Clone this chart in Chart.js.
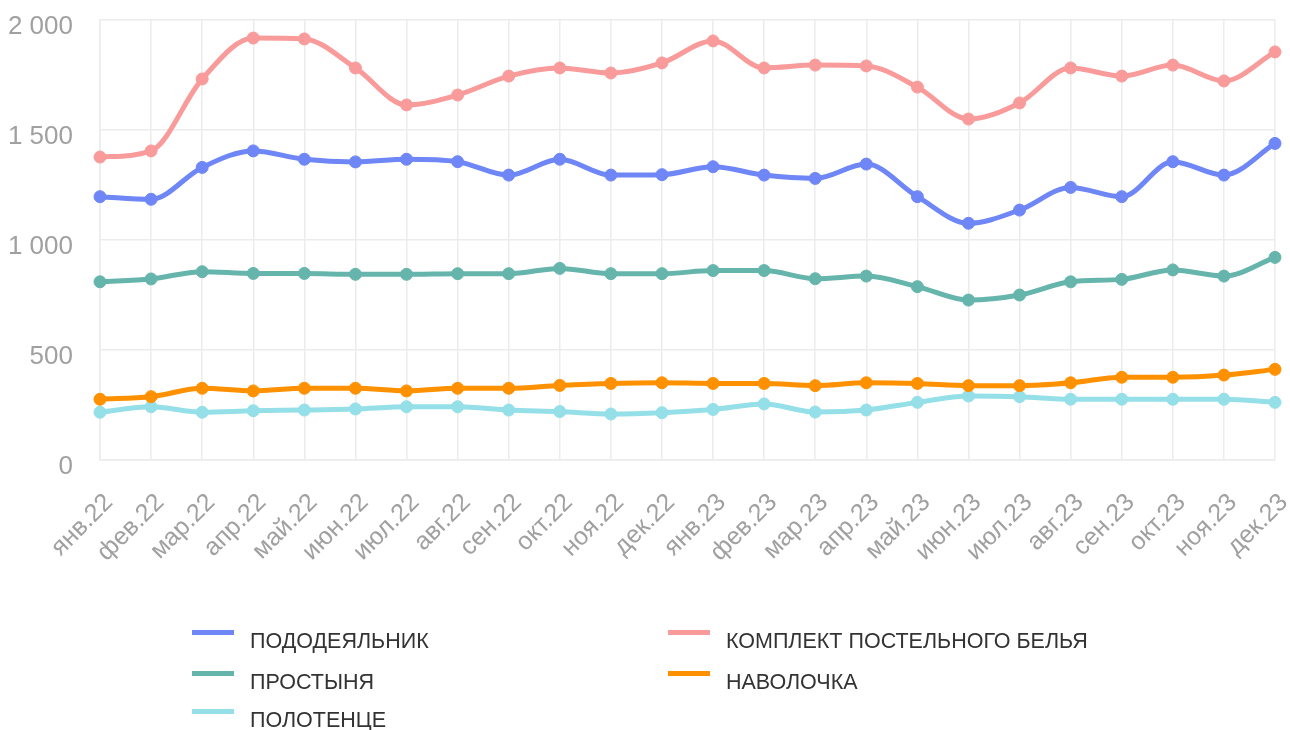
<!DOCTYPE html>
<html>
<head>
<meta charset="utf-8">
<script src="https://cdn.jsdelivr.net/npm/chart.js@4/dist/chart.umd.min.js"></script>
<style>
  html, body { margin: 0; padding: 0; background: #fff; }
  #wrap { position: relative; width: 1290px; height: 730px; }
  #chartBox { position: absolute; left: 0; top: 0; width: 1290px; height: 600px; }
  #legend { position: absolute; left: 0; top: 0; width: 1290px; height: 730px; pointer-events: none;
    font-family: "Liberation Sans", Arial, sans-serif; font-size: 21.5px; color: #333; }
  .sw { position: absolute; width: 42px; height: 5px; }
  .tx { position: absolute; white-space: nowrap; line-height: 24px; }
</style>
</head>
<body>
<div id="wrap">
  <div id="chartBox"><canvas id="c"></canvas></div>
  <div id="legend"></div>
</div>
<script>
const categories = ["янв.22","фев.22","мар.22","апр.22","май.22","июн.22","июл.22","авг.22","сен.22","окт.22","ноя.22","дек.22",
                    "янв.23","фев.23","мар.23","апр.23","май.23","июн.23","июл.23","авг.23","сен.23","окт.23","ноя.23","дек.23"];
const seriesNames = ["ПОДОДЕЯЛЬНИК","КОМПЛЕКТ ПОСТЕЛЬНОГО БЕЛЬЯ","ПРОСТЫНЯ","НАВОЛОЧКА","ПОЛОТЕНЦЕ"];
const pododeyalnik = [1197,1185,1330,1405,1367,1355,1367,1356,1295,1367,1295,1297,1333,1295,1280,1345,1197,1076,1136,1239,1197,1356,1295,1439];
const komplekt     = [1377,1405,1732,1918,1914,1782,1614,1659,1745,1782,1759,1805,1905,1782,1795,1791,1695,1550,1623,1782,1745,1795,1723,1855];
const prostynya    = [810,823,856,848,848,844,844,847,847,871,847,847,861,861,824,836,788,727,750,810,821,864,836,921];
const navolochka   = [276,288,326,314,326,326,314,326,326,339,348,351,348,348,338,351,348,338,338,351,376,376,386,412];
const polotentse   = [217,242,217,224,227,232,242,242,227,220,209,215,230,255,218,227,262,291,288,276,276,276,276,262];
const yTicks = [0,500,1000,1500,2000];

const colors = ["#6e86f6","#f99b9b","#66b5ac","#ff9100","#94dfe8"];
const values = [pododeyalnik, komplekt, prostynya, navolochka, polotentse];

const fmt = v => String(v).replace(/\B(?=(\d{3})+(?!\d))/g, " ");

const datasets = seriesNames.map((n, i) => ({
  label: n,
  data: values[i],
  borderColor: colors[i],
  backgroundColor: colors[i],
  pointBackgroundColor: colors[i],
  pointBorderColor: colors[i],
  borderWidth: 5,
  pointRadius: 6,
  pointBorderWidth: 1,
  cubicInterpolationMode: "monotone",
  fill: false
}));

const chart = new Chart(document.getElementById("c"), {
  type: "line",
  data: { labels: categories, datasets },
  options: {
    responsive: true,
    maintainAspectRatio: false,
    animation: false,
    layout: { padding: { top: 20, right: 15, left: 0, bottom: 0 } },
    plugins: { legend: { display: false }, tooltip: { enabled: false } },
    scales: {
      x: {
        offset: false,
        grid: { color: "#ececec", lineWidth: 1.5, drawTicks: false },
        border: { color: "#ececec", width: 1.5 },
        ticks: {
          color: "#a0a0a0", minRotation: 45, maxRotation: 45, padding: 28, labelOffset: 9,
          font: { family: "Liberation Sans", size: 25 }, autoSkip: false
        },
        afterFit: s => { s.height = 140; s.paddingLeft = 0; s.paddingRight = 0; s.paddingTop = 0; s.paddingBottom = 0; }
      },
      y: {
        min: 0, max: 2000,
        afterBuildTicks: s => { s.ticks = yTicks.map(v => ({ value: v })); },
        grid: { color: "#ececec", lineWidth: 1.5, drawTicks: false },
        border: { color: "#ececec", width: 1.5 },
        ticks: {
          color: "#a0a0a0", padding: 27, labelOffset: 7,
          font: { family: "Liberation Sans", size: 26 },
          callback: v => fmt(v)
        },
        afterFit: s => { s.width = 100; s.paddingTop = 0; s.paddingBottom = 0; s.paddingLeft = 0; s.paddingRight = 0; }
      }
    }
  }
});

// HTML legend built from chart datasets (two columns)
const legendPos = [
  { x: 192, y: 641 }, { x: 668, y: 641 },
  { x: 192, y: 682 }, { x: 668, y: 682 },
  { x: 192, y: 720 }
];
const lg = document.getElementById("legend");
chart.data.datasets.forEach((ds, i) => {
  const p = legendPos[i];
  const sw = document.createElement("div");
  sw.className = "sw";
  sw.style.left = p.x + "px";
  sw.style.top = (p.y - 11) + "px";
  sw.style.background = ds.borderColor;
  const t = document.createElement("div");
  t.className = "tx";
  t.style.left = (p.x + 58) + "px";
  t.style.top = (p.y - 12) + "px";
  t.textContent = ds.label;
  lg.appendChild(sw); lg.appendChild(t);
});
</script>
</body>
</html>
